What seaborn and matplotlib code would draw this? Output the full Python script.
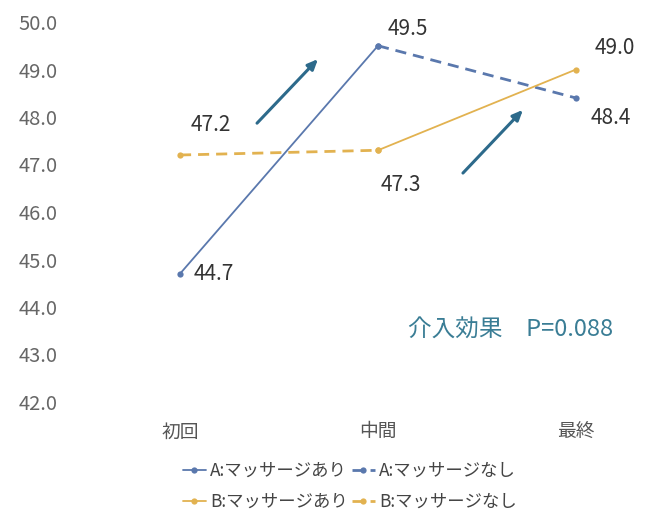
import numpy as np
import pandas as pd
import seaborn as sns
import matplotlib.pyplot as plt

sns.set_theme(style="white")
plt.rcParams['font.family'] = ['Noto Sans CJK JP', 'DejaVu Sans']

# ---- data ----
categories = ["初回", "中間", "最終"]
a_ari = [44.7, 49.5, np.nan]
a_nashi = [np.nan, 49.5, 48.4]
b_ari = [np.nan, 47.3, 49.0]
b_nashi = [47.2, 47.3, np.nan]
series_names = ["A:マッサージあり", "A:マッサージなし", "B:マッサージあり", "B:マッサージなし"]
yticks = [42.0, 43.0, 44.0, 45.0, 46.0, 47.0, 48.0, 49.0, 50.0]
annotation_text = "介入効果　P=0.088"

# long-form table
rows = []
for name, vals in zip(series_names, [a_ari, a_nashi, b_ari, b_nashi]):
    for i, v in enumerate(vals):
        rows.append({"series": name, "x": i, "value": v})
df = pd.DataFrame(rows).dropna()

blue = "#5a78ad"
gold = "#e2b250"
arrow_c = "#2d6a8b"
styles = {
    series_names[0]: dict(color=blue, ls="-", lw=1.3),
    series_names[1]: dict(color=blue, ls=(0, (4, 2.5)), lw=2.0),
    series_names[2]: dict(color=gold, ls="-", lw=1.3),
    series_names[3]: dict(color=gold, ls=(0, (4, 2.5)), lw=2.0),
}

fig = plt.figure(figsize=(6.49, 5.14), dpi=100)
ax = fig.add_axes([80 / 649, (514 - 402) / 514, 560 / 649, 380 / 514])

handles = {}
for name in series_names:
    sub = df[df["series"] == name]
    st = styles[name]
    sns.lineplot(data=sub, x="x", y="value", ax=ax, color=st["color"],
                 linestyle=st["ls"], linewidth=st["lw"], marker="o",
                 markersize=4.5, markeredgewidth=0, clip_on=False,
                 label=name, legend=False)
    handles[name] = ax.lines[-1]

ax.set_xlim(-100 / 198, 2 + 64 / 198)
ax.set_ylim(42, 50)
ax.set_xticks(range(len(categories)))
ax.set_xticklabels(categories)
ax.set_yticks(yticks)
ax.set_yticklabels([f"{v:.1f}" for v in yticks])
ax.tick_params(axis="y", length=0, pad=16, labelsize=14.5, labelcolor="#666666")
ax.tick_params(axis="x", length=0, pad=14, labelsize=13.5, labelcolor="#555555")
ax.set_xlabel("")
ax.set_ylabel("")
for s in ax.spines.values():
    s.set_visible(False)
ax.grid(False)

# value labels
label_specs = [
    (0, a_ari[0], (34, 0)),
    (0, b_nashi[0], (31, 30)),
    (1, a_ari[1], (30, 17)),
    (1, b_ari[1], (23, -35)),
    (2, b_ari[2], (39, 22)),
    (2, a_nashi[2], (35, -20)),
]
for xi, v, off in label_specs:
    ax.annotate(f"{v:.1f}", (xi, v), xytext=off, textcoords="offset pixels",
                ha="center", va="center", fontsize=15, color="#333333")

# arrows
for tail, head in [((0.389, 47.87), (0.697, 49.22)), ((1.429, 46.82), (1.732, 48.15))]:
    ax.annotate("", xy=head, xytext=tail,
                arrowprops=dict(arrowstyle="-|>,head_length=0.5,head_width=0.22",
                                color=arrow_c, lw=2.2, shrinkA=0, shrinkB=0))

ax.text(1.667, 43.52, annotation_text, ha="center", va="center",
        fontsize=17, color="#3a7d95")

order = [series_names[0], series_names[2], series_names[1], series_names[3]]
fig.legend([handles[n] for n in order], order, loc="upper center",
           bbox_to_anchor=(350 / 649, 1 - 446 / 514), ncol=2, frameon=False,
           fontsize=12.5, handlelength=1.3, handletextpad=0.25,
           columnspacing=0.25, labelspacing=0.75, labelcolor="#444444")

fig.savefig("out.png", dpi=100)
